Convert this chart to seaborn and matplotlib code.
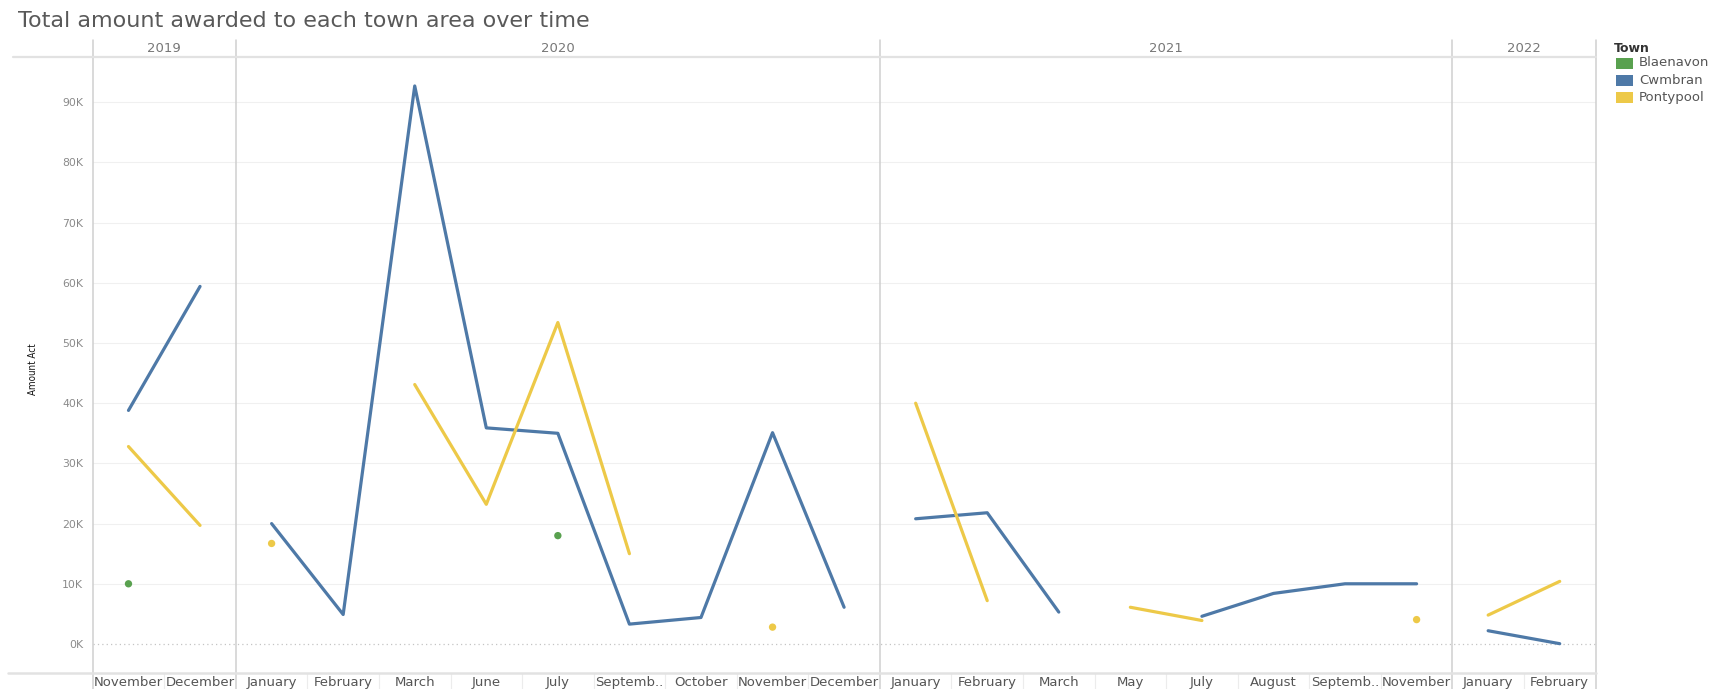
import matplotlib
matplotlib.use("Agg")
import matplotlib.pyplot as plt
import matplotlib.transforms as mtransforms
from matplotlib.patches import Rectangle
import pandas as pd
import seaborn as sns

# ---- data -------------------------------------------------------------
years = ["2019", "2020", "2021", "2022"]
months_2019 = ["November", "December"]
months_2020 = ["January", "February", "March", "June", "July",
               "Septemb..", "October", "November", "December"]
months_2021 = ["January", "February", "March", "May", "July",
               "August", "Septemb..", "November"]
months_2022 = ["January", "February"]

towns = ["Blaenavon", "Cwmbran", "Pontypool"]
town_colors = ["#59a14f", "#4e79a7", "#edc948"]

# one value per month column above (None = no award that month)
blaenavon = [10000, None,
             None, None, None, None, 18000, None, None, None, None,
             None, None, None, None, None, None, None, None,
             None, None]
cwmbran = [38800, 59400,
           20000, 4900, 92700, 35900, 35000, 3300, 4400, 35100, 6100,
           20800, 21800, 5300, None, 4600, 8400, 10000, 10000,
           2200, 50]
pontypool = [32800, 19700,
             16700, None, 43100, 23200, 53400, 15000, None, 2800, None,
             40000, 7200, None, 6100, 3900, None, None, 4050,
             4800, 10400]

y_ticks = [0, 10000, 20000, 30000, 40000, 50000, 60000, 70000, 80000, 90000]
y_tick_labels = ["0K", "10K", "20K", "30K", "40K", "50K", "60K", "70K", "80K", "90K"]

title = "Total amount awarded to each town area over time"
y_title = "Amount Act"
legend_title = "Town"

# ---- tidy frame: one row per mark, split into unbroken runs ----------
col_year, col_month = [], []
for yr, months in zip(years, [months_2019, months_2020, months_2021, months_2022]):
    for m in months:
        col_year.append(yr)
        col_month.append(m)
n_cols = len(col_month)

records = []
for town, vals in zip(towns, [blaenavon, cwmbran, pontypool]):
    seg, prev_ok, prev_year = 0, False, None
    for i, (yr, v) in enumerate(zip(col_year, vals)):
        if v is None:
            prev_ok = False
            continue
        if not prev_ok or yr != prev_year:
            seg += 1
        records.append(dict(pos=i, year=yr, town=town, amount=v,
                            segment=f"{town}-{seg}"))
        prev_ok, prev_year = True, yr
df = pd.DataFrame(records)
run_len = df.groupby("segment")["pos"].transform("size")
runs = df[run_len > 1]
singles = df[run_len == 1]

# ---- figure -----------------------------------------------------------
sns.set_theme(style="white")
plt.rcParams["font.family"] = ["DejaVu Sans"]

W, H = 1710, 689
fig = plt.figure(figsize=(W / 100, H / 100), dpi=100)
x0, x1, y_top, y_bot = 92.7, 1595.5, 57, 673
ax = fig.add_axes([x0 / W, (H - y_bot) / H, (x1 - x0) / W, (y_bot - y_top) / H])
ax_h = y_bot - y_top

palette = dict(zip(towns, town_colors))

# gridlines and zero line
for v in y_ticks[1:]:
    ax.axhline(v, color="#f0f0f0", lw=0.8, zorder=0)
ax.axhline(0, color="#c4c4c4", lw=0.9, ls=(0, (1, 2.5)), zorder=0)

sns.lineplot(data=runs, x="pos", y="amount", hue="town", units="segment",
             estimator=None, palette=palette, linewidth=2.3, legend=False,
             ax=ax, solid_capstyle="round", solid_joinstyle="round", zorder=3)
sns.scatterplot(data=singles, x="pos", y="amount", hue="town", palette=palette,
                s=28, linewidth=0, legend=False, ax=ax, zorder=3)

ax.set_xlim(-0.5, n_cols - 0.5)
ax.set_ylim(-4820, 97510)
for s in ax.spines.values():
    s.set_visible(False)

ax.set_xticks(range(n_cols))
ax.set_xticklabels(col_month)
ax.tick_params(axis="x", length=0, pad=2.5, labelsize=9.5, labelcolor="#555555")
ax.set_yticks(y_ticks)
ax.set_yticklabels(y_tick_labels)
ax.tick_params(axis="y", length=0, pad=7, labelsize=7.8, labelcolor="#8a8a8a")
ax.set_xlabel("")
ax.set_ylabel("")

# panel dividers between years, month separators under the axis
ext_lo = -16 / ax_h
ext_hi = 1 + 17 / ax_h
boundaries = [-0.5]
acc = -0.5
for months in [months_2019, months_2020, months_2021, months_2022]:
    acc += len(months)
    boundaries.append(acc)
for b in boundaries:
    ax.axvline(b, ymin=ext_lo, ymax=ext_hi, color="#cfcfcf", lw=1.1,
               clip_on=False, zorder=1)
for i in range(n_cols - 1):
    if (i + 0.5) not in boundaries:
        ax.axvline(i + 0.5, ymin=ext_lo, ymax=0, color="#ececec", lw=0.8,
                   clip_on=False, zorder=1)

# header rule and axis rule
ax.plot([(13 - x0) / (x1 - x0), 1], [1, 1], transform=ax.transAxes,
        color="#e2e2e2", lw=1.6, clip_on=False, zorder=1)
ax.plot([(8 - x0) / (x1 - x0), 1], [0, 0], transform=ax.transAxes,
        color="#e2e2e2", lw=1.8, clip_on=False, zorder=1)

# year headers
blend = mtransforms.blended_transform_factory(ax.transData, ax.transAxes)
for yr, lo, hi in zip(years, boundaries[:-1], boundaries[1:]):
    ax.text((lo + hi) / 2, 1 + 9 / ax_h, yr, transform=blend, ha="center",
            va="center", fontsize=9.5, color="#777777")

# titles
fig.text(18 / W, 1 - 21 / H, title, fontsize=16, color="#595959", va="center")
fig.text(33 / W, 1 - 369 / H, y_title, rotation=90, ha="center", va="center",
         fontsize=7, fontstretch="condensed", color="#111111",
         family=["DejaVu Sans"])

# legend
fig.text(1614 / W, 1 - 49 / H, legend_title, fontsize=9, fontweight="bold",
         color="#333333", va="center")
for k, (town, col) in enumerate(zip(towns, town_colors)):
    yc = 63 + 17 * k
    fig.add_artist(Rectangle((1616 / W, 1 - (yc + 5.5) / H), 17 / W, 11 / H,
                             transform=fig.transFigure, facecolor=col,
                             edgecolor="none"))
    fig.text(1639 / W, 1 - yc / H, town, fontsize=9.5, color="#555555",
             va="center")

fig.savefig("out.png", dpi=100)
